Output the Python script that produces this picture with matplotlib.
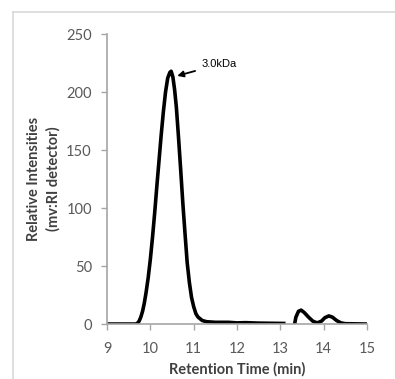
import numpy as np
import matplotlib
matplotlib.use("Agg")
import matplotlib.pyplot as plt
from matplotlib.lines import Line2D

# chromatogram (retention time in min, intensity in mV)
time_main = [9.0, 9.66, 9.70, 9.74, 9.78, 9.82, 9.86, 9.90, 9.95, 10.00,
             10.05, 10.10, 10.15, 10.20, 10.25, 10.30, 10.35, 10.40, 10.45,
             10.48, 10.52, 10.56, 10.60, 10.65, 10.70, 10.75, 10.80, 10.85,
             10.90, 10.95, 11.00, 11.05, 11.10, 11.20, 11.30, 11.50, 11.80,
             12.00, 12.20, 12.50, 13.12]
signal_main = [0, 0, 0.5, 2.5, 6, 11, 18, 27, 40, 56,
               75, 96, 119, 141, 163, 183, 200, 212, 217,
               218, 213, 202, 187, 161, 133, 104, 78, 53,
               36, 23, 15, 9, 6, 3, 2, 1.5, 1.5,
               1.0, 1.2, 0.8, 0.5]

time_tail = [13.33, 13.36, 13.42, 13.48, 13.55, 13.65, 13.75, 13.85, 13.95,
             14.03, 14.12, 14.20, 14.30, 14.40, 14.50, 15.0]
signal_tail = [0, 6, 11, 12, 10, 6, 2.5, 1, 2.5,
               5.5, 7, 6, 3, 1, 0.3, 0]

peak_label = "3.0kDa"
peak_at = (10.62, 214)
label_at = (11.19, 224)

x_ticks = [9, 10, 11, 12, 13, 14, 15]
y_ticks = [0, 50, 100, 150, 200, 250]

plt.rcParams['font.family'] = ['Lato', 'DejaVu Sans']

fig = plt.figure(figsize=(3.95, 3.79), dpi=100)
ax = fig.add_axes([0.271, 0.145, 0.658, 0.765])

ax.plot(time_main, signal_main, color='black', lw=2.6, solid_capstyle='butt')
ax.plot(time_tail, signal_tail, color='black', lw=2.6, solid_capstyle='butt')

ax.annotate(peak_label, xy=peak_at, xytext=label_at,
            ha='left', va='center', fontsize=8, family='Liberation Sans',
            arrowprops=dict(arrowstyle='-|>', color='black', lw=1.3,
                            mutation_scale=9, shrinkA=3, shrinkB=0))

ax.set_xlim(9, 15)
ax.set_ylim(0, 250)
ax.set_xticks(x_ticks)
ax.set_yticks(y_ticks)

for s in ['top', 'right']:
    ax.spines[s].set_visible(False)
for s in ['left', 'bottom']:
    ax.spines[s].set_color('#a6a6a6')
    ax.spines[s].set_linewidth(1.2)

ax.tick_params(axis='x', direction='out', length=4, width=1, color='#a6a6a6',
               labelsize=10.5, labelcolor='#595959', pad=9)
ax.tick_params(axis='y', direction='out', length=4, width=1, color='#a6a6a6',
               labelsize=10.5, labelcolor='#595959', pad=7)

ax.set_xlabel('Retention Time (min)', fontsize=10.5, fontweight='bold',
              color='#404040', labelpad=4)
ax.set_ylabel('Relative Intensities\n(mv:RI detector)', fontsize=10.5,
              fontweight='bold', color='#404040', labelpad=4,
              linespacing=1.45)

# light frame around the chart area
fig.add_artist(Line2D([0.033, 1.0], [0.968, 0.968], transform=fig.transFigure,
                      color='#d9d9d9', lw=1.2))
fig.add_artist(Line2D([0.033, 0.033], [0.0, 0.968], transform=fig.transFigure,
                      color='#d9d9d9', lw=1.2))

fig.savefig('out.png', dpi=100)
